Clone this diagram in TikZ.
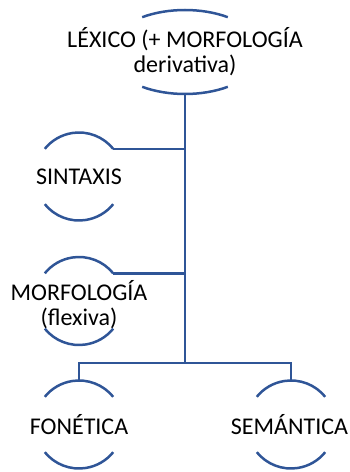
\documentclass[tikz,border=0pt]{standalone}
\usepackage{fontspec}
\setmainfont{Carlito}
\usetikzlibrary{shapes.geometric}
\definecolor{lineblue}{RGB}{47,85,151}
\tikzset{
  x=1pt,y=1pt,
  hub/.style={circle,draw=none,minimum size=88pt,inner sep=0pt,outer sep=0pt},
  bighub/.style={ellipse,draw=none,minimum width=153pt,minimum height=84pt,inner sep=0pt,outer sep=0pt},
  lbl/.style={font=\fontsize{24}{25}\selectfont,align=center,text=black,inner sep=0pt},
  wire/.style={draw=lineblue,line width=2.5pt},
}
\begin{document}
\begin{tikzpicture}
\useasboundingbox (0,0) rectangle (349,472);
% shapes
\node[bighub] (lex) at (185,420) {};
\node[hub] (sint) at (79,295.5) {};
\node[hub] (morf) at (79,171) {};
\node[hub] (fon) at (79,47.5) {};
\node[hub] (sem) at (291,47.5) {};
\coordinate (bus) at (185,109);
% texts
\node[lbl] (lexT) at (lex) {LÉXICO (+ MORFOLOGÍA\\derivativa)};
\node[lbl] (sintT) at (sint) {SINTAXIS};
\node[lbl] (morfT) at ([yshift=-4]morf) {MORFOLOGÍA\\(flexiva)};
\node[lbl] (fonT) at (fon) {FONÉTICA};
\node[lbl] (semT) at ([xshift=-1.5]sem) {SEMÁNTICA};
% arcs
\draw[wire] ([shift={(56:76.5 and 42)}]lex.center) arc[start angle=56,end angle=124,x radius=76.5,y radius=42];
\draw[wire] ([shift={(236:76.5 and 42)}]lex.center) arc[start angle=236,end angle=304,x radius=76.5,y radius=42];
\foreach \n in {sint,morf,fon,sem}{
  \draw[wire] ([shift={(39:44)}]\n.center) arc[start angle=39,end angle=141,radius=44];
  \draw[wire] ([shift={(219:44)}]\n.center) arc[start angle=219,end angle=321,radius=44];
}
% connectors
\draw[wire] (lex.south) -- (bus);
\draw[wire] (sint.39) -- (sint.39 -| lex.south);
\draw[wire] (morf.39) -- (morf.39 -| lex.south);
\draw[wire] (fon.north) |- (bus) -| (sem.north);
\end{tikzpicture}
\end{document}
